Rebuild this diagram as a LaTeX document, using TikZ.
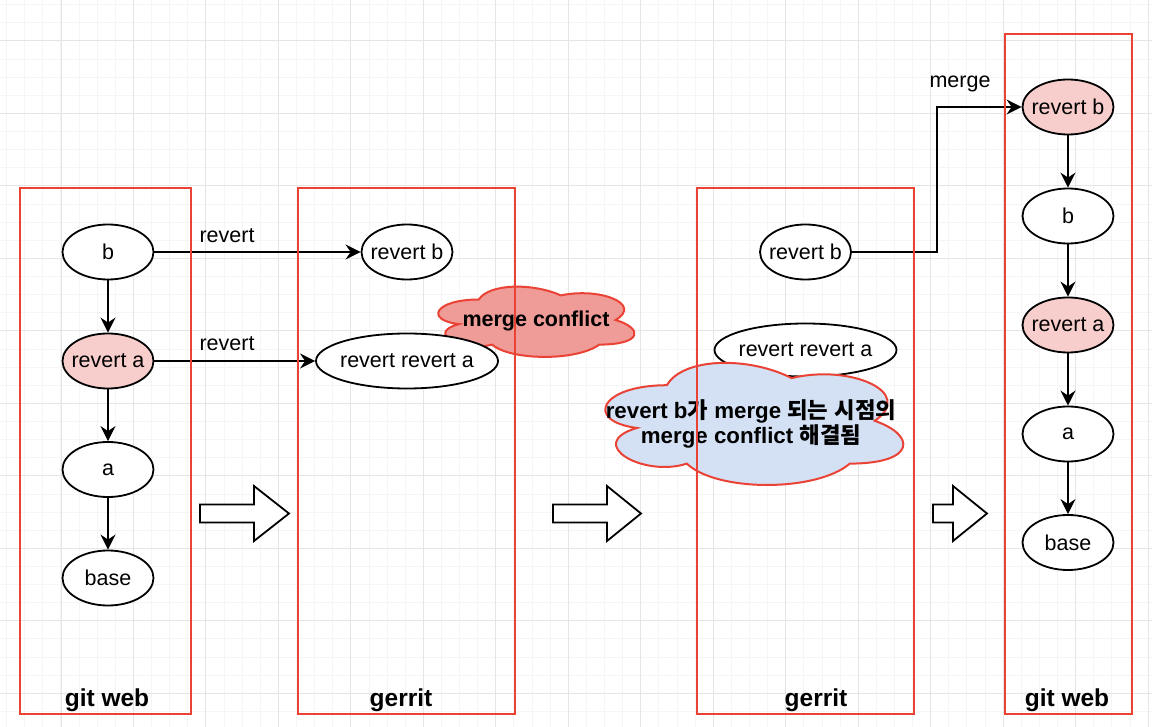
\documentclass[tikz,border=0pt]{standalone}
\usepackage{fontspec}
\setmainfont{Liberation Sans}
\newfontfamily\kr{Noto Sans CJK KR}
\usetikzlibrary{shapes.geometric, arrows.meta, calc}

\definecolor{gridminor}{RGB}{245,245,245}
\definecolor{gridmajor}{RGB}{229,229,229}
\definecolor{framered}{RGB}{234,67,53}
\definecolor{pinkfill}{RGB}{248,206,204}
\definecolor{conflictfill}{RGB}{239,155,152}
\definecolor{bluefill}{RGB}{212,225,245}

\newcommand\ctext[1]{\makebox[0pt][c]{#1}}

\tikzset{
 commit/.style={ellipse, draw=black, line width=1.8pt, fill=white, minimum width=91pt, minimum height=55pt, inner sep=0pt, font=\fontsize{21.5}{25}\selectfont},
 widecommit/.style={commit, minimum width=182pt},
 hot/.style={fill=pinkfill},
 flow/.style={line width=1.8pt, -{Stealth[length=15pt,width=15pt,inset=5pt]}},
 frame/.style={draw=framered, line width=2pt, inner sep=0pt},
 framelabel/.style={font=\fontsize{24.5}{28}\selectfont\bfseries},
 edgelabel/.style={font=\fontsize{21.5}{25}\selectfont},
 cloudline/.style={draw=framered, line width=2pt},
 cloudtext/.style={font=\fontsize{21.5}{25}\selectfont\bfseries, align=center},
 bigarrow/.style={draw=black, line width=1.8pt, fill=white, line join=miter},
}

\newcommand\cloudshape[5]{%
 \begin{scope}[shift={(#1,#2)}, x=#3pt, y=-#4pt]
  \path[cloudline, fill=#5] (0.25,0.25) .. controls (0.05,0.25) and (0,0.5) .. (0.16,0.55)
   .. controls (0,0.66) and (0.18,0.9) .. (0.31,0.8)
   .. controls (0.4,1) and (0.7,1) .. (0.8,0.8)
   .. controls (1,0.8) and (1,0.6) .. (0.875,0.5)
   .. controls (1,0.3) and (0.8,0.1) .. (0.625,0.2)
   .. controls (0.5,0.05) and (0.3,0.05) .. (0.25,0.25) -- cycle;
 \end{scope}}

\newcommand\blockarrow[3]{%
 \draw[bigarrow] (#1,504.5) -- (#2,504.5) -- (#2,486) -- (#3,513.5) -- (#2,541) -- (#2,522.5) -- (#1,522.5) -- cycle;}

\begin{document}
\begin{tikzpicture}[x=1pt,y=-1pt]
\useasboundingbox (0,0) rectangle (1152,727);
\fill[white] (0,0) rectangle (1152,727);

% grid
\foreach \i in {0,...,63} {\draw[gridminor, line width=1pt] ({6.6+18.12*\i},0) -- ({6.6+18.12*\i},727);}
\foreach \j in {0,...,40} {\draw[gridminor, line width=1pt] (0,{4.76+18.12*\j}) -- (1152,{4.76+18.12*\j});}
\foreach \i in {0,...,15} {\draw[gridmajor, line width=1pt] ({61+72.47*\i},0) -- ({61+72.47*\i},727);}
\foreach \j in {0,...,9} {\draw[gridmajor, line width=1pt] (0,{41+72.48*\j}) -- (1152,{41+72.48*\j});}

% merge conflict cloud
\cloudshape{424}{279}{219}{82}{conflictfill}
\node[cloudtext] (mc) at (536,321) {merge conflict};

% column 1 (git web)
\node[commit] (b1) at (108,252) {\ctext{b}};
\node[commit, hot] (ra1) at (108,361) {\ctext{revert a}};
\node[commit] (a1) at (108,469.5) {\ctext{a}};
\node[commit] (base1) at (108,578) {\ctext{base}};
\draw[flow] (b1) -- (ra1);
\draw[flow] (ra1) -- (a1);
\draw[flow] (a1) -- (base1);

% column 2 (gerrit)
\node[commit] (rb2) at (407,252) {\ctext{revert b}};
\node[widecommit] (rra2) at (407,361) {\ctext{revert revert a}};
\draw[flow] (b1) -- (rb2);
\draw[flow] (ra1) -- (rra2);
\node[edgelabel] (lr1) at (227,236) {revert};
\node[edgelabel] (lr2) at (227,344) {revert};

% column 3 (gerrit)
\node[commit] (rb3) at (805.5,252) {\ctext{revert b}};
\node[widecommit, minimum height=53pt] (rra3) at (805.5,350) {\ctext{revert revert a}};

% column 4 (git web)
\node[commit, hot] (rb4) at (1068,107) {\ctext{revert b}};
\node[commit] (b4) at (1068,216) {\ctext{b}};
\node[commit, hot] (ra4) at (1068,325) {\ctext{revert a}};
\node[commit] (a4) at (1068,434) {\ctext{a}};
\node[commit] (base4) at (1068,542.5) {\ctext{base}};
\draw[flow] (rb4) -- (b4);
\draw[flow] (b4) -- (ra4);
\draw[flow] (ra4) -- (a4);
\draw[flow] (a4) -- (base4);

\coordinate (mk) at (937,107);
\draw[flow] (rb3.east) -| (mk) -- (rb4.west);
\node[edgelabel] (lm) at (960,84) {merge};

% blue cloud
\cloudshape{583.7}{349.6}{332.6}{142.5}{bluefill}
\node[cloudtext, font=\fontsize{22.3}{25.5}\selectfont\bfseries] (rc) at (751,424) {revert b{\kr 가} merge {\kr 되는} {\kr 시점의}\\merge conflict {\kr 해결됨}};

% block arrows
\blockarrow{200}{254}{289}
\blockarrow{553}{607}{641}
\blockarrow{933}{953}{987}

% frames
\node[frame, minimum width=171pt, minimum height=526pt] (f1) at (105.5,451) {};
\node[frame, minimum width=217pt, minimum height=526pt] (f2) at (406.5,451) {};
\node[frame, minimum width=217pt, minimum height=526pt] (f3) at (805.5,451) {};
\node[frame, minimum width=127pt, minimum height=680pt] (f4) at (1068.5,374) {};

\node[framelabel] (t1) at (107,700) {git web};
\node[framelabel] (t2) at (401,700) {gerrit};
\node[framelabel] (t3) at (816,700) {gerrit};
\node[framelabel] (t4) at (1067,700) {git web};
\end{tikzpicture}
\end{document}
